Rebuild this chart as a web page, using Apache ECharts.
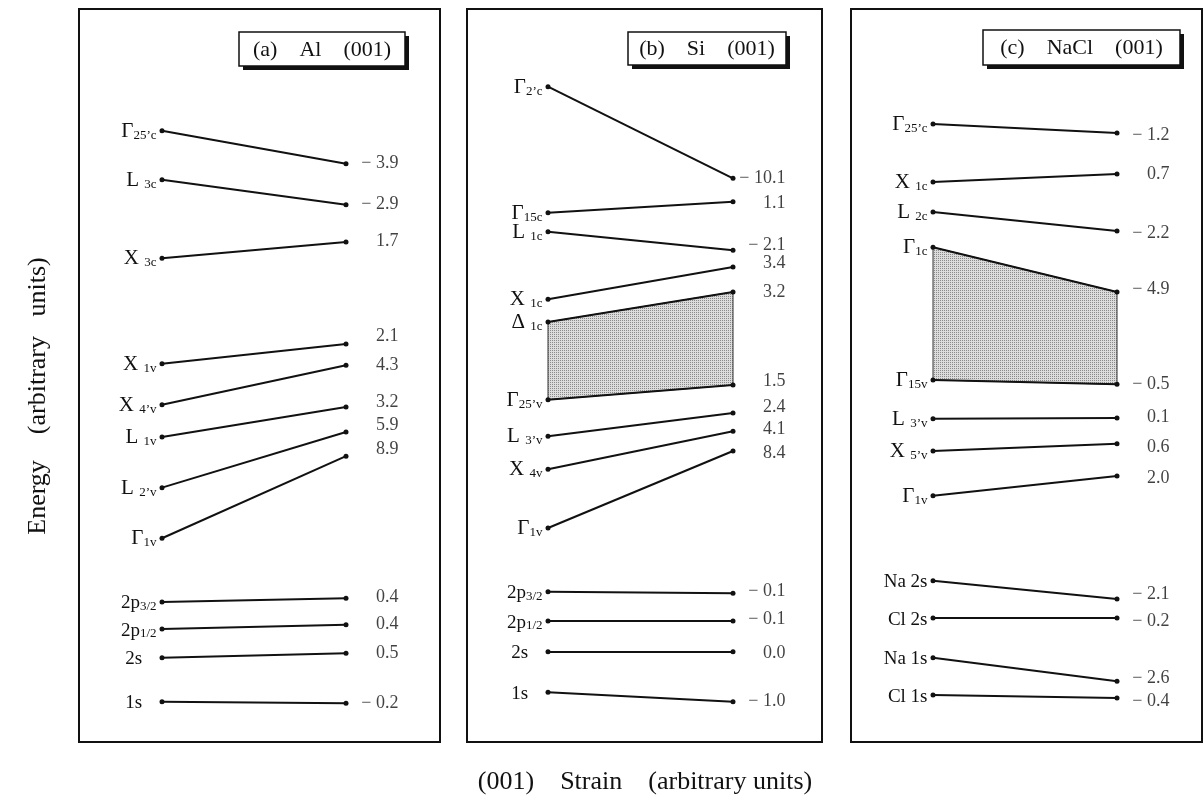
<!DOCTYPE html>
<html><head><meta charset="utf-8">
<script src="https://cdn.jsdelivr.net/npm/echarts@6/dist/echarts.min.js"></script>
<style>html,body{margin:0;padding:0;background:#fff}#c{width:1204px;height:803px}</style>
</head><body><div id="c"></div>
<script>
// ---------- DATA (energies in arbitrary units) ----------
// Panel (a) Al (001)
const aNames  = ['Γ_25’c','L _3c','X _3c','X _1v','X _4’v','L _1v','L _2’v','Γ_1v','2p_3/2','2p_1/2','2s   ','1s   '];
const aLeft   = [83.4,76.7,66.0,51.6,46.0,41.6,34.7,27.8,19.1,15.4,11.5,5.5];
const aRight  = [78.9,73.3,68.2,54.3,51.4,45.7,42.3,39.0,19.6,16.0,12.1,5.3];
const aValues = [-3.9,-2.9,1.7,2.1,4.3,3.2,5.9,8.9,0.4,0.4,0.5,-0.2];
const aValueAt= [79.0,73.3,68.3,55.4,51.4,46.4,43.2,40.0,19.8,16.0,12.1,5.3];
const aBand   = null;
// Panel (b) Si (001)
const bNames  = ['Γ_2’c','Γ_15c','L _1c','X _1c','Δ _1c','Γ_25’v','L _3’v','X _4v','Γ_1v','2p_3/2','2p_1/2','2s   ','1s   '];
const bLeft   = [89.4,72.2,69.6,60.4,57.3,46.7,41.7,37.2,29.2,20.5,16.5,12.3,6.8];
const bRight  = [76.9,73.7,67.1,64.8,61.4,48.7,44.9,42.4,39.7,20.3,16.5,12.3,5.5];
const bValues = [-10.1,1.1,-2.1,3.4,3.2,1.5,2.4,4.1,8.4,-0.1,-0.1,0.0,-1.0];
const bValueAt= [76.9,73.5,67.8,65.3,61.3,49.2,45.6,42.6,39.4,20.5,16.8,12.1,5.6];
const bBand   = [4,5];
// Panel (c) NaCl (001)
const cNames  = ['Γ_25’c','X _1c','L _2c','Γ_1c','Γ_15v','L _3’v','X _5’v','Γ_1v','Na 2s','Cl 2s','Na 1s','Cl 1s'];
const cLeft   = [84.3,76.4,72.3,67.5,49.4,44.1,39.7,33.6,22.0,16.9,11.5,6.4];
const cRight  = [83.1,77.5,69.7,61.4,48.8,44.2,40.7,36.3,19.5,16.9,8.3,6.0];
const cValues = [-1.2,0.7,-2.2,-4.9,-0.5,0.1,0.6,2.0,-2.1,-0.2,-2.6,-0.4];
const cValueAt= [82.8,77.4,69.4,61.7,48.8,44.3,40.2,36.0,20.1,16.5,8.7,5.6];
const cBand   = [3,4];

const panelTitles = ['(a)    Al    (001)', '(b)    Si    (001)', '(c)    NaCl    (001)'];
const xTitle = '(001)    Strain    (arbitrary units)';
const yTitle = 'Energy    (arbitrary   units)';

// ---------- LAYOUT ----------
const FONT = "'Liberation Serif','Times New Roman',serif";
const INK = '#111';
const boxes = [ {l:79, w:361, dl:162, dr:346}, {l:467, w:355, dl:548, dr:733}, {l:851, w:351, dl:933, dr:1117} ];
const TOP = 9, H = 733;
const tagBoxes = [ {x:239,y:32,w:166,h:34}, {x:628,y:32,w:158,h:33}, {x:983,y:30,w:197,h:35} ];

const rich = {
  m: {fontFamily: FONT, fontSize: 21, lineHeight: 22, color: INK, verticalAlign: 'bottom'},
  p: {fontFamily: FONT, fontSize: 19, lineHeight: 22, color: INK, verticalAlign: 'bottom'},
  s: {fontFamily: FONT, fontSize: 13, lineHeight: 8, color: INK, verticalAlign: 'bottom'}
};
function fmtName(n) {
  const parts = n.split('_');
  if (parts.length < 2) return '{p|' + parts[0] + '}';
  const key = /^[ΓLXΔ]/.test(parts[0]) ? 'm' : 'p';
  return '{' + key + '|' + parts[0] + '}{s|' + parts[1] + '}';
}
function fmtVal(v) {
  return v < 0 ? '− ' + Math.abs(v).toFixed(1) : v.toFixed(1);
}

// stipple pattern for shaded gaps
const pc = document.createElement('canvas');
pc.width = 2; pc.height = 2;
const pctx = pc.getContext('2d');
pctx.fillStyle = '#dcdcdc'; pctx.fillRect(0,0,2,2);
pctx.fillStyle = '#8a8a8a'; pctx.fillRect(0,0,1,1);
const stipple = {image: pc, repeat: 'repeat'};

const panels = [
  {names:aNames, L:aLeft, R:aRight, vals:aValues, at:aValueAt, band:aBand},
  {names:bNames, L:bLeft, R:bRight, vals:bValues, at:bValueAt, band:bBand},
  {names:cNames, L:cLeft, R:cRight, vals:cValues, at:cValueAt, band:cBand}
];

const grid = [], xAxis = [], yAxis = [], series = [], graphic = [];
panels.forEach((p, i) => {
  const b = boxes[i];
  const span = b.dr - b.dl;
  grid.push({left: b.l, top: TOP, width: b.w, height: H, show: true, borderColor: INK, borderWidth: 2, backgroundColor: '#fff'});
  xAxis.push({type: 'value', gridIndex: i, min: -(b.dl - b.l) / span, max: 1 + (b.l + b.w - b.dr) / span, show: false});
  yAxis.push({type: 'value', gridIndex: i, min: 0, max: 100, show: false});
  if (p.band) {
    const t = p.band[0], u = p.band[1];
    series.push({type: 'custom', xAxisIndex: i, yAxisIndex: i, data: [[0, 0]], silent: true, z: 1,
      renderItem: (params, api) => ({
        type: 'polygon',
        shape: {points: [api.coord([0, p.L[t]]), api.coord([1, p.R[t]]), api.coord([1, p.R[u]]), api.coord([0, p.L[u]])]},
        style: {fill: stipple, stroke: '#333', lineWidth: 1}
      })
    });
  }
  series.push({type: 'lines', coordinateSystem: 'cartesian2d', xAxisIndex: i, yAxisIndex: i, silent: true, z: 3,
    data: p.names.map((n, k) => ({coords: [[0, p.L[k]], [1, p.R[k]]]})),
    lineStyle: {color: INK, width: 2, opacity: 1}
  });
  series.push({type: 'scatter', xAxisIndex: i, yAxisIndex: i, silent: true, z: 4, symbolSize: 5,
    itemStyle: {color: INK, opacity: 1},
    data: p.L.map((v, k) => ({value: [0, v], name: p.names[k]})),
    label: {show: true, position: 'left', distance: 3, formatter: q => fmtName(q.name), rich: rich}
  });
  series.push({type: 'scatter', xAxisIndex: i, yAxisIndex: i, silent: true, z: 4, symbolSize: 5,
    itemStyle: {color: INK, opacity: 1},
    data: p.R.map(v => [1, v])
  });
  series.push({type: 'scatter', xAxisIndex: i, yAxisIndex: i, silent: true, z: 4, symbolSize: 1,
    itemStyle: {color: 'rgba(0,0,0,0)'},
    data: p.at.map((v, k) => ({value: [1, v], name: fmtVal(p.vals[k])})),
    label: {show: true, position: 'left', distance: 0, offset: [53, 0], align: 'right',
      formatter: q => q.name, fontFamily: FONT, fontSize: 18, color: INK}
  });
  const tb = tagBoxes[i];
  graphic.push({type: 'rect', z: 10, shape: {x: tb.x + 4, y: tb.y + 4, width: tb.w, height: tb.h}, style: {fill: INK}});
  graphic.push({type: 'rect', z: 11, shape: {x: tb.x, y: tb.y, width: tb.w, height: tb.h}, style: {fill: '#fff', stroke: INK, lineWidth: 1.5}});
  graphic.push({type: 'text', z: 12, x: tb.x + tb.w / 2, y: tb.y + tb.h / 2 + 1,
    style: {text: panelTitles[i], font: '22px ' + FONT, fill: INK, textAlign: 'center', textVerticalAlign: 'middle'}});
});
graphic.push({type: 'text', x: 645, y: 782, style: {text: xTitle, font: '26px ' + FONT, fill: INK, textAlign: 'center', textVerticalAlign: 'middle'}});
graphic.push({type: 'text', x: 38, y: 396, rotation: Math.PI / 2, style: {text: yTitle, font: '26px ' + FONT, fill: INK, textAlign: 'center', textVerticalAlign: 'middle'}});

const chart = echarts.init(document.getElementById('c'), null, {renderer: 'canvas'});
chart.setOption({
  backgroundColor: '#fff',
  animation: false,
  grid, xAxis, yAxis, series, graphic
});
</script>
</body></html>
